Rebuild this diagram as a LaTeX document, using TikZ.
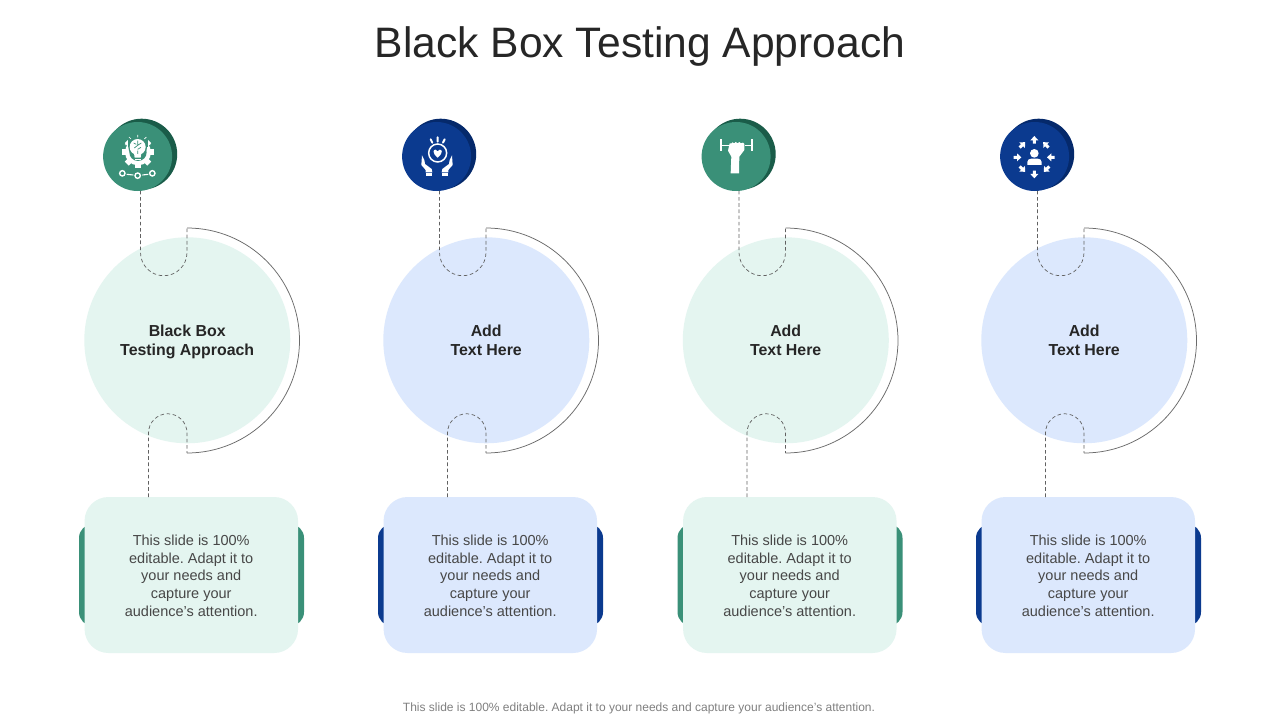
\documentclass[tikz,border=0pt]{standalone}
\usepackage{fontspec}
\setmainfont{Liberation Sans}
\definecolor{gmain}{HTML}{3A9078}
\definecolor{gdark}{HTML}{1A5C49}
\definecolor{glight}{HTML}{E4F5F0}
\definecolor{bmain}{HTML}{0B3A8F}
\definecolor{bdark}{HTML}{05296B}
\definecolor{blight}{HTML}{DCE8FD}
\tikzset{
  titletext/.style={font=\fontsize{42.6}{46}\selectfont,text=black!85},
  foottext/.style={font=\fontsize{12}{14}\selectfont,text=black!50},
  headtext/.style={font=\fontsize{15.9}{19}\bfseries\selectfont,text=black!85,align=center},
  bodytext/.style={font=\fontsize{14.5}{17.8}\selectfont,text=black!72,align=center},
  bigdisc/.style={circle,minimum size=206pt,inner sep=0pt},
  icondisc/.style={circle,minimum size=69pt,inner sep=0pt},
  backdisc/.style={circle,minimum size=71pt,inner sep=0pt},
  card/.style={rounded corners=24pt,minimum width=213.5pt,minimum height=156pt,inner sep=0pt},
  backcard/.style={rounded corners=14pt,minimum width=225pt,minimum height=102pt,inner sep=0pt},
  dashline/.style={draw=black!62,line width=0.7pt,dash pattern=on 3.6pt off 2.6pt},
  arcline/.style={draw=black!58,line width=0.75pt}
}
\newcommand{\gearshape}[3]{% x y radius
  \foreach \ga in {0,45,...,315}{
    \fill[white,rotate around={\ga:(#1,#2)}] ({#1-#3*0.22},{#2}) rectangle ({#1+#3*0.22},{#2-#3*1.22});
  }
}
\begin{document}
\frenchspacing
\begin{tikzpicture}[x=1pt,y=-1pt]
\useasboundingbox (0,0) rectangle (1280,720);
\fill[white] (0,0) rectangle (1280,720);
\node[titletext] (title) at (640,46) {\vphantom{p}Black Box Testing Approach};
\node[foottext] (foot) at (639,708.5) {\vphantom{p}This slide is 100\% editable. Adapt it to your needs and capture your audience's attention.};
\foreach \n/\o/\lt/\mn/\dk/\ha/\hb in {
  1/0/glight/gmain/gdark/Black Box/Testing Approach,
  2/299/blight/bmain/bdark/Add/Text Here,
  3/598.5/glight/gmain/gdark/Add/Text Here,
  4/897/blight/bmain/bdark/Add/Text Here}{
  \node[backcard,fill=\mn] (bk\n) at (\o+191.5,575) {};
  \node[card,fill=\lt] (card\n) at (\o+191.3,575) {};
  \node[bodytext] (body\n) at (\o+191.2,575.7) {This slide is 100\%\\editable. Adapt it to\\your needs and\\capture your\\audience's attention.};
  \node[bigdisc,fill=\lt] (disc\n) at (\o+187.3,340.3) {};
  \node[headtext] (head\n) at (\o+187.2,341.6) {\ha\\\hb\vphantom{p}};
  \node[backdisc,fill=\dk] (ib\n) at (\o+141.7,154.2) {};
  \node[icondisc,fill=\mn] (ic\n) at (\o+137.6,156.5) {};
  \coordinate (a\n) at (\o+140.5,190.8);
  \coordinate (b\n) at (\o+187,228);
  \coordinate (c\n) at (\o+187,453);
  \coordinate (d\n) at (\o+148.5,497);
  \draw[dashline] (a\n) -- ++(0,61.7) arc (180:0:23.25) -- (b\n);
  \draw[arcline] (b\n) arc (-90:90:112.5);
  \draw[dashline] (d\n) -- ++(0,-64) arc (-180:0:19.25) -- (c\n);
}
% icon 1: gear with bulb
\begin{scope}[shift={(90,110)},x=0.3333pt,y=-0.3333pt]
  \gearshape{144}{127}{39}
  \fill[white] (144,127) circle (39);
  \fill[gmain] (144,127) circle (26);
  \fill[gmain] (114,72) rectangle (174,112);
  \fill[gmain] (143,112) circle (28);
  \fill[white] (143,111) circle (24);
  \fill[white] (131,122) -- (155,122) -- (152,143) -- (134,143) -- cycle;
  \fill[white] (134,146) rectangle (152,150);
  \fill[white] (136,153) rectangle (150,157);
  \draw[gmain,line width=0.7pt] (143,92) -- (143,106) -- (133,114) (143,106) -- (154,99) (131,99) -- (139,103) (143,122) -- (143,132) (143,118) -- (153,112);
  \draw[white,line width=0.7pt] (143,82) -- (143,75) (123,87) -- (117,81) (163,87) -- (169,81) (112,105) -- (105,104) (174,105) -- (181,104);
  \foreach \gx/\gy in {97/190,143/197,187/190}{
    \draw[white,line width=1.4pt] (\gx,\gy) circle (8);
  }
  \draw[white,line width=1.1pt] (110,193) -- (130,195) (157,195) -- (175,193);
\end{scope}
% icon 2: hands and heart
\begin{scope}[shift={(390,110)},x=0.3333pt,y=-0.3333pt]
  \draw[white,line width=1.5pt] (143,129) circle (27);
  \fill[white] (143,143) .. controls (125,128) and (130,118) .. (137,119) .. controls (140,119) and (142,121) .. (143,124) .. controls (144,121) and (146,119) .. (149,119) .. controls (156,118) and (161,128) .. (143,143) -- cycle;
  \draw[white,line width=2pt,line cap=round] (143,82) -- (143,95) (122,88) -- (127,98) (164,88) -- (159,98);
  \fill[white] (96,136) -- (103,150) -- (105,162) -- (125,177) -- (127,187) -- (107,187) -- (107,180) -- (94,165) -- cycle;
  \fill[white] (107,190) rectangle (127,197);
  \fill[white] (186,136) -- (179,150) -- (177,162) -- (157,177) -- (155,187) -- (175,187) -- (175,180) -- (188,165) -- cycle;
  \fill[white] (155,190) rectangle (175,197);
\end{scope}
% icon 3: fist and dumbbell
\begin{scope}[shift={(690,110)},x=0.3333pt,y=-0.3333pt]
  \fill[white] (89,88) rectangle (95,124);
  \fill[white] (184,88) rectangle (190,124);
  \fill[white] (95,104) rectangle (121,108);
  \fill[white] (166,104) rectangle (184,108);
  \fill[white] (114,122) -- (119,100) -- (125,100) -- (127,97) -- (133,100) -- (137,96) -- (143,100) -- (148,96) -- (153,100) -- (159,98) -- (163,102) -- (163,120) -- (148,140) -- (147,190) -- (122,190) -- (124,140) -- cycle;
\end{scope}
% icon 4: person and arrows
\begin{scope}[shift={(990,110)},x=0.3333pt,y=-0.3333pt]
  \fill[white] (133,130) circle (13);
  \fill[white] (112,165) -- (112,156) .. controls (112,149) and (118,146) .. (124,146) -- (143,146) .. controls (149,146) and (155,149) .. (155,156) -- (155,165) -- cycle;
  \foreach \ax/\ay/\ar in {133/90/0,168/105/45,183/142/90,170/177/135,133/193/180,97/177/225,82/142/270,97/105/315}{
    \fill[white,shift={(\ax,\ay)},rotate=\ar] (0,-12) -- (12,1) -- (4.5,1) -- (4.5,11) -- (-4.5,11) -- (-4.5,1) -- (-12,1) -- cycle;
  }
\end{scope}
\end{tikzpicture}
\end{document}
